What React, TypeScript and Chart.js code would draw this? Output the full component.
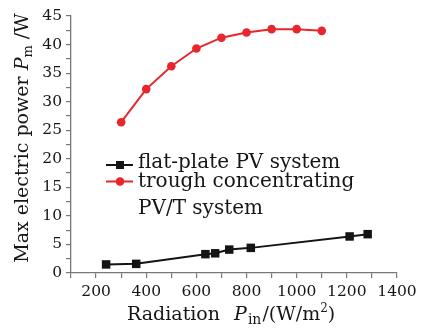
import React, { useEffect, useRef } from "react";
import { Chart, registerables } from "chart.js";

Chart.register(...registerables);

const radiationPVT = [300, 400, 500, 600, 700, 800, 900, 1000, 1100];
const powerPVT = [26.4, 32.2, 36.2, 39.3, 41.2, 42.1, 42.7, 42.7, 42.4];
const radiationFlat = [240, 360, 636, 675, 731, 817, 1211, 1283];
const powerFlat = [1.5, 1.6, 3.3, 3.45, 4.1, 4.4, 6.4, 6.8];

const legendLabels = ["flat-plate PV system", "trough concentrating", "PV/T system"];
const xTitleParts = ["Radiation  ", "P", "in", "/(W/m", "2", ")"];
const yTitleParts = ["Max electric power ", "P", "m", " /W"];

const FONT = "'DejaVu Serif', serif";
const RED = "#e8262b";
const BLACK = "#141414";
const TEXT = "#161616";

type Seg = { t: string; size: number; italic?: boolean; dy?: number; after?: number };

function drawSegs(ctx: CanvasRenderingContext2D, segs: Seg[], x: number, y: number, center: boolean) {
  let total = 0;
  const widths = segs.map((s) => {
    ctx.font = `${s.italic ? "italic " : ""}${s.size}px ${FONT}`;
    const w = ctx.measureText(s.t).width + (s.after || 0);
    total += w;
    return w;
  });
  let cx = center ? x - total / 2 : x;
  segs.forEach((s, i) => {
    ctx.font = `${s.italic ? "italic " : ""}${s.size}px ${FONT}`;
    ctx.fillText(s.t, cx, y + (s.dy || 0));
    cx += widths[i];
  });
}

const overlayPlugin = {
  id: "overlay",
  afterDraw(chart: any) {
    const ctx: CanvasRenderingContext2D = chart.ctx;
    ctx.save();
    ctx.fillStyle = TEXT;
    ctx.textBaseline = "alphabetic";
    ctx.textAlign = "left";
    // x title
    drawSegs(
      ctx,
      [
        { t: xTitleParts[0], size: 19, after: 2 },
        { t: xTitleParts[1], size: 19, italic: true, after: 1 },
        { t: xTitleParts[2], size: 14, dy: 4, after: 1 },
        { t: xTitleParts[3], size: 19 },
        { t: xTitleParts[4], size: 12, dy: -8 },
        { t: xTitleParts[5], size: 19 },
      ],
      127,
      320,
      false
    );
    // y title
    ctx.save();
    ctx.translate(28, 138);
    ctx.rotate(-Math.PI / 2);
    drawSegs(
      ctx,
      [
        { t: yTitleParts[0], size: 19 },
        { t: yTitleParts[1], size: 19, italic: true },
        { t: yTitleParts[2], size: 13, dy: 4 },
        { t: yTitleParts[3], size: 19 },
      ],
      0,
      0,
      true
    );
    ctx.restore();

    // legend
    ctx.lineWidth = 2;
    ctx.strokeStyle = BLACK;
    ctx.beginPath();
    ctx.moveTo(106, 165);
    ctx.lineTo(133, 165);
    ctx.stroke();
    ctx.fillStyle = BLACK;
    ctx.fillRect(116, 161, 8, 8);
    ctx.strokeStyle = RED;
    ctx.beginPath();
    ctx.moveTo(106, 181.5);
    ctx.lineTo(133, 181.5);
    ctx.stroke();
    ctx.fillStyle = RED;
    ctx.beginPath();
    ctx.arc(120, 181.5, 4.3, 0, Math.PI * 2);
    ctx.fill();

    ctx.fillStyle = TEXT;
    ctx.font = `20px ${FONT}`;
    ctx.fillText(legendLabels[0], 138, 168);
    ctx.fillText(legendLabels[1], 138, 187);
    ctx.fillText(legendLabels[2], 138, 213.5);
    ctx.restore();
  },
};

export default function App() {
  const ref = useRef<HTMLCanvasElement>(null);
  useEffect(() => {
    document.body.style.margin = "0";
    const chart = new Chart(ref.current!, {
      type: "scatter",
      data: {
        datasets: [
          {
            label: legendLabels[0],
            data: radiationFlat.map((x, i) => ({ x, y: powerFlat[i] })),
            showLine: true,
            borderColor: BLACK,
            backgroundColor: BLACK,
            borderWidth: 2,
            pointStyle: "rect",
            pointRadius: 6,
            pointBorderWidth: 0,
          },
          {
            label: legendLabels[1] + " " + legendLabels[2],
            data: radiationPVT.map((x, i) => ({ x, y: powerPVT[i] })),
            showLine: true,
            borderColor: RED,
            backgroundColor: RED,
            borderWidth: 2,
            pointStyle: "circle",
            pointRadius: 4.3,
            pointBorderWidth: 0,
          },
        ],
      },
      options: {
        responsive: false,
        animation: false,
        layout: { padding: { left: 0, right: 25, top: 16, bottom: 0 } },
        plugins: { legend: { display: false }, tooltip: { enabled: false } },
        scales: {
          x: {
            type: "linear",
            min: 100,
            max: 1400,
            afterFit: (s: any) => {
              s.height = 55;
            },
            ticks: {
              stepSize: 100,
              autoSkip: false,
              maxRotation: 0,
              padding: 5,
              color: TEXT,
              font: { family: FONT, size: 15.5 },
              callback: (v: any) => (Number(v) % 200 === 0 ? String(v) : ""),
            },
            grid: { drawOnChartArea: false, drawTicks: true, tickLength: 5, color: "#777", lineWidth: 1.2 },
            border: { color: "#777", width: 1.3 },
          },
          y: {
            type: "linear",
            min: 0,
            max: 45,
            afterFit: (s: any) => {
              s.width = 71;
            },
            ticks: {
              stepSize: 2.5,
              autoSkip: false,
              padding: 4,
              color: TEXT,
              font: { family: FONT, size: 15.5 },
              callback: (v: any) => (Number(v) % 5 === 0 ? String(v) : ""),
            },
            grid: { drawOnChartArea: false, drawTicks: true, tickLength: 5, color: "#777", lineWidth: 1.2 },
            border: { color: "#777", width: 1.3 },
          },
        },
      },
      plugins: [overlayPlugin],
    });
    return () => chart.destroy();
  }, []);
  return (
    <div style={{ width: 422, height: 328, background: "#fff" }}>
      <canvas ref={ref} width={422} height={328} />
    </div>
  );
}
